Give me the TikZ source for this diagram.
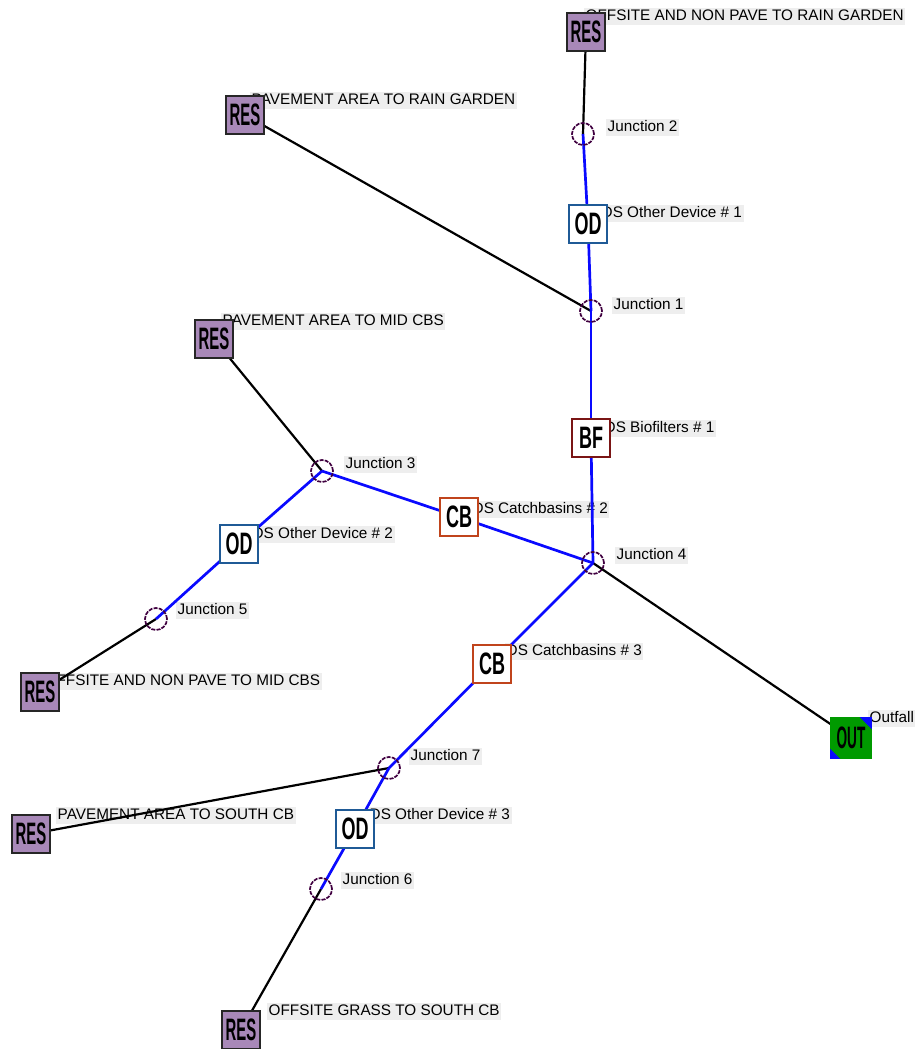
\documentclass[tikz,border=0pt]{standalone}
\usepackage{fontspec}
\setmainfont{Liberation Sans}
\usepackage{graphicx}
\definecolor{respurple}{HTML}{A888B8}
\definecolor{lblgray}{HTML}{EEEEEE}
\definecolor{juncpurple}{HTML}{400040}
\definecolor{odblue}{HTML}{1F5A96}
\definecolor{bfred}{HTML}{7A1515}
\definecolor{cborange}{HTML}{C0441C}
\definecolor{outgreen}{HTML}{009A00}
\definecolor{pipeblue}{HTML}{0A0AFF}
\begin{document}
\begin{tikzpicture}[x=1pt,y=-1pt,
  lbl/.style={anchor=west, fill=lblgray, inner sep=1.5pt, text height=11pt, text depth=3pt, font=\fontsize{15.3}{15}\selectfont},
  icon/.style={draw, line width=1.6pt, minimum width=38pt, minimum height=38pt, inner sep=0pt, font=\bfseries\fontsize{31}{31}\selectfont},
  res/.style={icon, fill=respurple, draw=black!85, line width=1.1pt},
  od/.style={icon, fill=white, draw=odblue},
  bf/.style={icon, fill=white, draw=bfred},
  cb/.style={icon, fill=white, draw=cborange},
  outb/.style={icon, fill=outgreen, draw=outgreen, minimum width=40pt, minimum height=40pt},
  junc/.style={circle, draw=juncpurple, line width=1.7pt, dash pattern=on 4pt off 1.2pt, minimum size=22pt, inner sep=0pt},
  pipe/.style={pipeblue, line width=2.7pt},
  link/.style={black, line width=2.2pt}]
\useasboundingbox (0,0) rectangle (916,1049);
% positions
\coordinate (res1) at (586,32);
\coordinate (j2) at (583,134);
\coordinate (od1) at (588,224);
\coordinate (j1) at (591,311);
\coordinate (res2) at (245,115);
\coordinate (bf) at (591,438);
\coordinate (res3) at (214,339);
\coordinate (j3) at (322,471);
\coordinate (cb2) at (459,517);
\coordinate (j4) at (593,563);
\coordinate (od2) at (239,544);
\coordinate (j5) at (156,619);
\coordinate (res4) at (40,692);
\coordinate (cb3) at (492,664);
\coordinate (out) at (851,738);
\coordinate (j7) at (389,768);
\coordinate (res5) at (31,834);
\coordinate (od3) at (355,829);
\coordinate (j6) at (321,889);
\coordinate (res6) at (241,1030);
% labels
\node[lbl] (l1) at (584,17) {OFFSITE AND NON PAVE TO RAIN GARDEN};
\node[lbl] (l2) at (606,127) {Junction 2};
\node[lbl] (l3) at (600,213) {DS Other Device \# 1};
\node[lbl] (l4) at (612,305) {Junction 1};
\node[lbl] (l5) at (250,100) {PAVEMENT AREA TO RAIN GARDEN};
\node[lbl] (l6) at (603,428) {DS Biofilters \# 1};
\node[lbl] (l7) at (221,321) {PAVEMENT AREA TO MID CBS};
\node[lbl] (l8) at (344,464) {Junction 3};
\node[lbl] (l9) at (471,509) {DS Catchbasins \# 2};
\node[lbl] (l10) at (615,555) {Junction 4};
\node[lbl] (l11) at (251,534) {DS Other Device \# 2};
\node[lbl] (l12) at (176,610) {Junction 5};
\node[lbl] (l13) at (43,681) {OFFSITE AND NON PAVE TO MID CBS};
\node[lbl] (l14) at (505,651) {DS Catchbasins \# 3};
\node[lbl] (l15) at (868,718) {Outfall};
\node[lbl] (l16) at (409,756) {Junction 7};
\node[lbl] (l17) at (56,815) {PAVEMENT AREA TO SOUTH CB};
\node[lbl] (l18) at (368,815) {DS Other Device \# 3};
\node[lbl] (l19) at (341,880) {Junction 6};
\node[lbl] (l20) at (267,1011) {OFFSITE GRASS TO SOUTH CB};
% connectors
\draw[link] (res1) -- (j2);
\draw[link] (res2) -- (j1);
\draw[link] (res3) -- (j3);
\draw[link] (res4) -- (j5);
\draw[link] (res5) -- (j7);
\draw[link] (res6) -- (j6);
\draw[link] (j4) -- (out);
\draw[pipe] (j2) -- (od1);
\draw[pipe] (od1) -- (j1);
\draw[pipe] (j1) -- (bf);
\draw[pipe] (bf) -- (j4);
\draw[pipe] (j3) -- (cb2);
\draw[pipe] (cb2) -- (j4);
\draw[pipe] (j3) -- (od2);
\draw[pipe] (od2) -- (j5);
\draw[pipe] (j4) -- (cb3);
\draw[pipe] (cb3) -- (j7);
\draw[pipe] (j7) -- (od3);
\draw[pipe] (od3) -- (j6);
% junctions
\foreach \j in {j1,j2,j3,j4,j5,j6,j7} \node[junc] (\j c) at (\j) {};
% icons
\foreach \r in {res1,res2,res3,res4,res5,res6}
  \node[res] (\r n) at (\r) {\raisebox{-2pt}{\scalebox{0.48}[1]{RES}}};
\foreach \o in {od1,od2,od3}
  \node[od] (\o n) at (\o) {\scalebox{0.58}[1]{OD}};
\node[bf] (bfn) at (bf) {\scalebox{0.58}[1]{BF}};
\node[cb] (cb2n) at (cb2) {\scalebox{0.58}[1]{CB}};
\node[cb] (cb3n) at (cb3) {\scalebox{0.58}[1]{CB}};
\node[outb] (outn) at (out) {};
\fill[pipeblue] (outn.south west) -- ++(0,-10) -- ++(10,10) -- cycle;
\fill[pipeblue] (outn.north east) -- ++(-12,0) -- ++(12,12) -- cycle;
\node[font=\bfseries\fontsize{31}{31}\selectfont, inner sep=0pt] (outt) at (out) {\raisebox{-2pt}{\scalebox{0.44}[1]{OUT}}};
\end{tikzpicture}
\end{document}
